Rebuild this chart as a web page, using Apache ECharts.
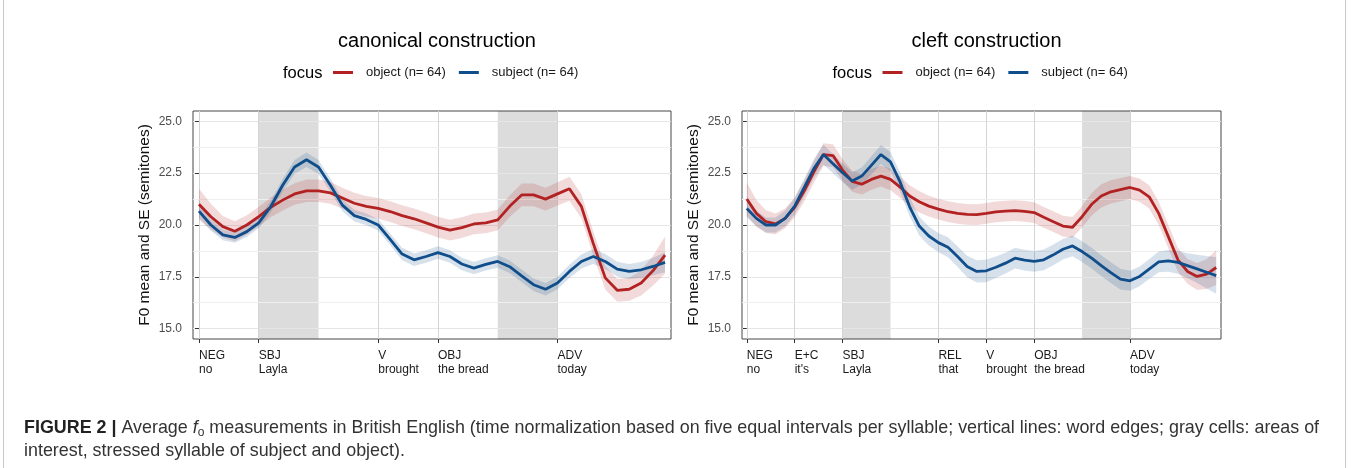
<!DOCTYPE html>
<html><head><meta charset="utf-8">
<script src="https://cdn.jsdelivr.net/npm/echarts@6/dist/echarts.min.js"></script>
<style>html,body{margin:0;padding:0;background:#fff}#c{width:1357px;height:468px}</style>
</head><body><div id="c"></div>
<script>
// ---------- DATA ----------
const timeCanon = [0,0.2,0.4,0.6,0.8,1,1.2,1.4,1.6,1.8,2,2.2,2.4,2.6,2.8,3,3.2,3.4,3.6,3.8,4,4.2,4.4,4.6,4.8,5,5.2,5.4,5.6,5.8,6,6.2,6.4,6.6,6.8,7,7.2,7.4,7.6,7.8];
const timeCleft = [0,0.2,0.4,0.6,0.8,1,1.2,1.4,1.6,1.8,2,2.2,2.4,2.6,2.8,3,3.2,3.4,3.6,3.8,4,4.2,4.4,4.6,4.8,5,5.2,5.4,5.6,5.8,6,6.2,6.4,6.6,6.8,7,7.2,7.4,7.6,7.8,8,8.2,8.4,8.6,8.8,9,9.2,9.4,9.6,9.8];

const canonObject   = [21.0,20.4,19.92,19.7,20.0,20.4,20.85,21.2,21.5,21.65, 21.65,21.55,21.3,21.05,20.9,20.8,20.65,20.45,20.3,20.1, 19.9,19.75,19.87,20.05,20.1,20.25,20.9,21.45,21.45,21.25, 21.5,21.75,20.9,19.1,17.45,16.85,16.9,17.2,17.8,18.55];
const canonObjectSE = [0.75,0.62,0.52,0.48,0.47,0.47,0.48,0.5,0.52,0.54, 0.54,0.52,0.5,0.5,0.5,0.5,0.5,0.5,0.5,0.5, 0.5,0.5,0.5,0.5,0.5,0.5,0.52,0.55,0.55,0.55, 0.56,0.58,0.58,0.58,0.56,0.55,0.56,0.6,0.72,0.9];
const canonSubject  = [20.67,20.0,19.52,19.4,19.68,20.1,20.88,21.92,22.8,23.15, 22.8,21.92,20.96,20.45,20.27,20.0,19.31,18.6,18.32,18.48, 18.67,18.48,18.12,17.92,18.1,18.24,17.99,17.55,17.12,16.9, 17.2,17.76,18.24,18.48,18.24,17.87,17.76,17.84,18.0,18.2];
const canonSubjectSE= [0.32,0.28,0.26,0.26,0.26,0.26,0.28,0.3,0.33,0.35, 0.34,0.32,0.3,0.28,0.28,0.28,0.28,0.3,0.3,0.3, 0.3,0.3,0.3,0.3,0.3,0.3,0.3,0.3,0.3,0.3, 0.3,0.32,0.34,0.36,0.36,0.36,0.36,0.38,0.42,0.48];

const cleftObject   = [21.25,20.56,20.16,20.05,20.32, 20.85,21.65,22.56,23.4,23.35, 22.65,22.1,21.97,22.2,22.36, 22.2,21.83,21.4,21.12,20.91, 20.77,20.64,20.56,20.51,20.5, 20.56,20.63,20.67,20.69,20.66, 20.6,20.37,20.16,19.95,19.89, 20.4,21.0,21.4,21.6,21.71, 21.81,21.68,21.36,20.56,19.44, 18.32,17.76,17.52,17.63,17.95];
const cleftObjectSE = [0.8,0.65,0.55,0.5,0.48, 0.48,0.5,0.52,0.55,0.55, 0.52,0.5,0.5,0.5,0.5, 0.52,0.52,0.52,0.52,0.5, 0.5,0.5,0.5,0.5,0.5, 0.5,0.5,0.5,0.5,0.5, 0.5,0.5,0.5,0.5,0.5, 0.52,0.54,0.56,0.56,0.56, 0.56,0.56,0.56,0.56,0.56, 0.58,0.6,0.65,0.72,0.84];
const cleftSubject  = [20.8,20.32,20.0,20.0,20.32, 20.91,21.81,22.72,23.4,22.96, 22.52,22.12,22.36,22.88,23.4, 23.05,22.08,20.88,19.95,19.47, 19.15,18.93,18.48,18.0,17.76, 17.79,17.96,18.16,18.4,18.3, 18.24,18.32,18.56,18.83,18.99, 18.72,18.4,18.04,17.7,17.39, 17.31,17.52,17.87,18.22,18.27, 18.2,18.04,17.88,17.72,17.56];
const cleftSubjectSE= [0.42,0.38,0.36,0.36,0.38, 0.4,0.42,0.45,0.48,0.46, 0.44,0.42,0.42,0.44,0.46, 0.46,0.46,0.46,0.46,0.46, 0.46,0.48,0.5,0.52,0.54, 0.55,0.52,0.5,0.5,0.5, 0.5,0.5,0.5,0.5,0.5, 0.5,0.5,0.5,0.5,0.5, 0.48,0.48,0.48,0.5,0.52, 0.55,0.6,0.68,0.78,0.88];

const canonTickValues = [0,1,3,4,6];
const canonTickLabels = ['NEG\nno','SBJ\nLayla','V\nbrought','OBJ\nthe bread','ADV\ntoday'];
const cleftTickValues = [0,1,2,4,5,6,8];
const cleftTickLabels = ['NEG\nno','E+C\nit\'s','SBJ\nLayla','REL\nthat','V\nbrought','OBJ\nthe bread','ADV\ntoday'];
const canonShade = [[1,2],[5,6]];
const cleftShade = [[2,3],[7,8]];
const yTickValues = [15,17.5,20,22.5,25];
const yMinorValues = [16.25,18.75,21.25,23.75];

const panelTitles = ['canonical construction','cleft construction'];
const seriesNames = ['object (n= 64)','subject (n= 64)'];
const yTitle = 'F0 mean and SE (semitones)';

// ---------- STYLE ----------
const FONT = '"Liberation Sans", Arial, Helvetica, sans-serif';
const RED = '#B22222', BLUE = '#104E8B';
const RED_BAND = 'rgba(178,34,34,0.17)', BLUE_BAND = 'rgba(16,78,139,0.17)';

const panels = [
  {time: timeCanon, obj: canonObject, objSE: canonObjectSE, sub: canonSubject, subSE: canonSubjectSE,
   ticks: canonTickValues, labels: canonTickLabels, shade: canonShade, xmax: 7.9,
   grid: {left:193, top:111, width:478, height:228}, titleX: 432, focusX: 278, legendX: 333},
  {time: timeCleft, obj: cleftObject, objSE: cleftObjectSE, sub: cleftSubject, subSE: cleftSubjectSE,
   ticks: cleftTickValues, labels: cleftTickLabels, shade: cleftShade, xmax: 9.9,
   grid: {left:742, top:111, width:479, height:228}, titleX: 981.5, focusX: 827.5, legendX: 882.5}
];

const grids = [], xAxes = [], yAxes = [], series = [], titles = [], legends = [];

function bandSeries(k, time, mean, se, color) {
  const data = time.map((t, i) => [t, mean[i] - se[i], mean[i] + se[i]]);
  return {
    type:'custom', xAxisIndex:k, yAxisIndex:k, silent:true, z:2, data:data,
    encode:{x:0, y:[1,2]},
    renderItem:function(params, api){
      if (params.dataIndex !== 0) return null;
      const upper = data.map(d => api.coord([d[0], d[2]]));
      const lower = data.map(d => api.coord([d[0], d[1]])).reverse();
      return {type:'polygon', shape:{points: upper.concat(lower)}, style:{fill:color, stroke:null}};
    }
  };
}

panels.forEach((p, k) => {
  grids.push(Object.assign({show:true, borderColor:'#474747', borderWidth:1, backgroundColor:'transparent', containLabel:false}, p.grid));
  xAxes.push({
    gridIndex:k, type:'value', min:-0.1, max:p.xmax,
    axisLine:{show:false},
    axisTick:{show:true, customValues:p.ticks, length:4, lineStyle:{color:'#333', width:1}},
    axisLabel:{customValues:p.ticks, align:'left', margin:9, fontSize:12, lineHeight:14.5, color:'#1a1a1a', fontFamily:FONT,
      formatter:(v)=>p.labels[p.ticks.indexOf(v)]},
    splitLine:{show:true, lineStyle:{color:'#d4d4d4', width:1}}
  });
  yAxes.push({
    gridIndex:k, type:'value', min:14.5, max:25.5,
    axisLine:{show:false},
    axisTick:{show:true, customValues:yTickValues, length:4, lineStyle:{color:'#333', width:1}},
    axisLabel:{customValues:yTickValues, margin:11, fontSize:12, color:'#4d4d4d', fontFamily:FONT, formatter:(v)=>v.toFixed(1)},
    splitLine:{show:true, lineStyle:{color:'#e6e6e6', width:1}},
    name: yTitle, nameLocation:'middle', nameGap:40, nameRotate:90,
    nameTextStyle:{fontSize:15.5, color:'#111', fontFamily:FONT}
  });
  // shaded areas of interest (beneath the grid lines)
  series.push({type:'line', name:'shade'+k, xAxisIndex:k, yAxisIndex:k, data:[], z:-1, silent:true,
    markArea:{z:-1, silent:true, itemStyle:{color:'#dcdcdc'}, data:p.shade.map(([a,b])=>[{xAxis:a},{xAxis:b}])}});
  // minor grid lines
  series.push({type:'line', name:'minor'+k, xAxisIndex:k, yAxisIndex:k, data:[], z:0, silent:true,
    markLine:{z:0, silent:true, symbol:'none', label:{show:false}, animation:false,
      lineStyle:{color:'#efefef', width:1, type:'solid'}, data:yMinorValues.map(v=>({yAxis:v}))}});
  // SE ribbons
  series.push(bandSeries(k, p.time, p.obj, p.objSE, RED_BAND));
  series.push(bandSeries(k, p.time, p.sub, p.subSE, BLUE_BAND));
  // mean lines
  series.push({type:'line', name:seriesNames[0], xAxisIndex:k, yAxisIndex:k, symbol:'none', z:3,
    color:RED, itemStyle:{color:RED}, lineStyle:{color:RED, width:2.8}, data:p.time.map((t,i)=>[t,p.obj[i]])});
  series.push({type:'line', name:seriesNames[1], xAxisIndex:k, yAxisIndex:k, symbol:'none', z:3,
    color:BLUE, itemStyle:{color:BLUE}, lineStyle:{color:BLUE, width:2.8}, data:p.time.map((t,i)=>[t,p.sub[i]])});

  titles.push({text:panelTitles[k], left:p.titleX, top:26, textAlign:'center',
    textStyle:{fontSize:20, fontWeight:'normal', color:'#000', fontFamily:FONT}});
  titles.push({text:'focus', left:p.focusX, top:60, textStyle:{fontSize:16.5, fontWeight:'normal', color:'#000', fontFamily:FONT}});
  legends.push({left:p.legendX, top:66, data:seriesNames, icon:'rect', itemWidth:20, itemHeight:3, itemGap:13,
    selectedMode:false, padding:0,
    textStyle:{fontSize:13, color:'#1a1a1a', fontFamily:FONT, padding:[0,0,0,8]}});
});

titles.push({
  left:19, top:412,
  text:'{b|FIGURE 2 |} Average {i|f}{s|o} measurements in British English (time normalization based on five equal intervals per syllable; vertical lines: word edges; gray cells: areas of\ninterest, stressed syllable of subject and object).',
  textStyle:{fontSize:17.9, lineHeight:23, color:'#333', fontWeight:'normal', fontFamily:FONT,
    rich:{
      b:{fontWeight:'bold', fontSize:17.9, lineHeight:23, color:'#222', fontFamily:FONT},
      i:{fontStyle:'italic', fontSize:17.9, lineHeight:23, color:'#333', fontFamily:FONT},
      s:{fontSize:12, lineHeight:14, padding:[9,0,0,0], color:'#333', fontFamily:FONT}
    }}
});

const chart = echarts.init(document.getElementById('c'), null, {renderer:'canvas'});
chart.setOption({
  animation:false,
  backgroundColor:'#fff',
  textStyle:{fontFamily:FONT},
  title:titles, legend:legends, grid:grids, xAxis:xAxes, yAxis:yAxes, series:series,
  graphic:[{type:'rect', silent:true, shape:{x:3.5, y:-10, width:1342, height:490},
    style:{fill:'none', stroke:'#c8c8c8', lineWidth:1}}]
});
</script></body></html>
